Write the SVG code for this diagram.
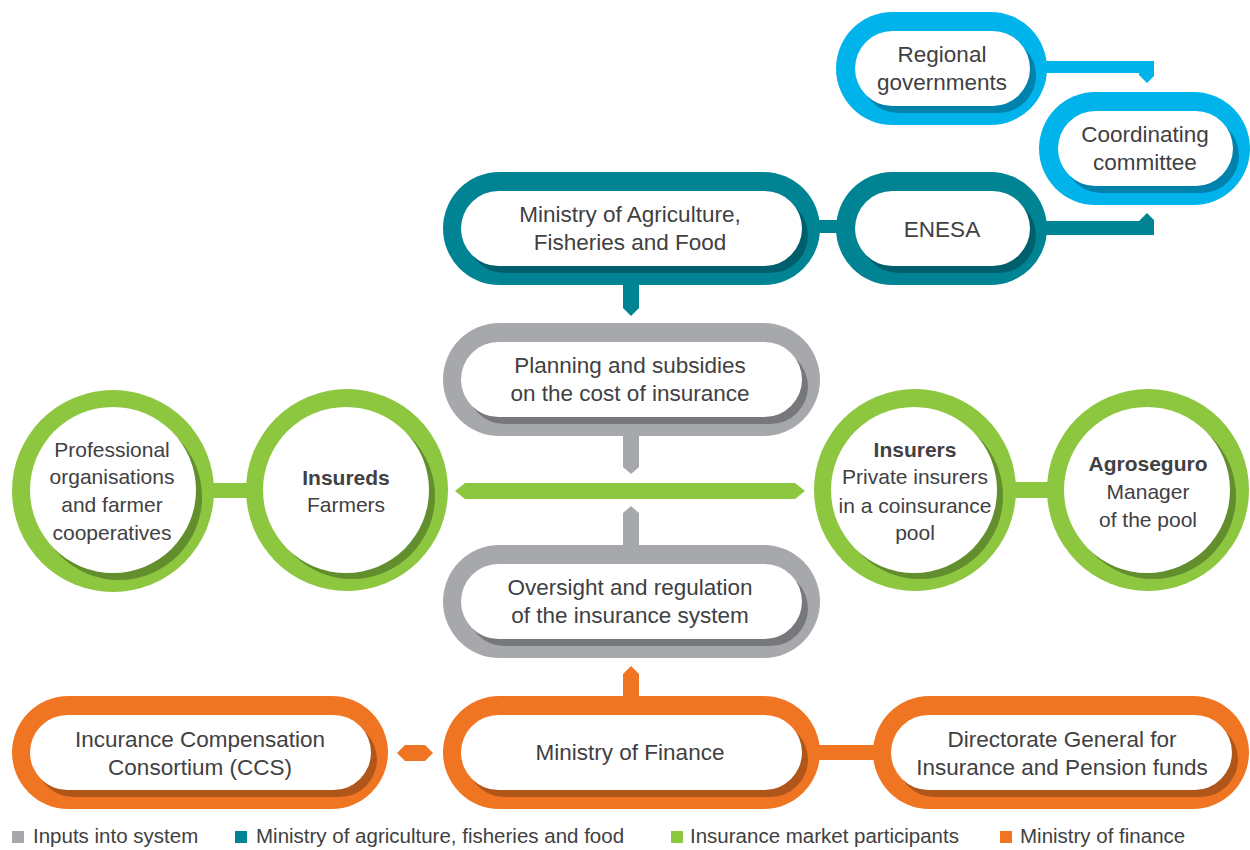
<svg xmlns="http://www.w3.org/2000/svg" width="1250" height="850" viewBox="0 0 1250 850">
<style>
text{font-family:"Liberation Sans",Arial,sans-serif;fill:#414042;font-size:22.5px;text-anchor:middle}
.c text{font-size:21px}
.b{font-weight:bold}
.lg{font-size:20.5px;text-anchor:start}
.w{fill:#ffffff}
.blue{fill:#00b4eb}.blue-s{fill:#0082ad}
.teal{fill:#008393}.teal-s{fill:#005f6c}
.grey{fill:#a7a8ac}.grey-s{fill:#77787b}
.green{fill:#8dc63f}.green-s{fill:#628e2e}
.orange{fill:#f07522}.orange-s{fill:#b0561a}
</style>
<rect width="1250" height="850" fill="#ffffff"/>
<g id="connectors">
  <polygon class="blue" points="1040,61 1154,61 1154,76 1147,83 1139,75 1139,73 1040,73"/>
  <polygon class="teal" points="1040,221 1139,221 1147,213 1154,220 1154,235 1040,235"/>
  <rect class="teal" x="815" y="220" width="30" height="13"/>
  <polygon class="teal" points="623,280 639,280 639,308 631,316 623,308"/>
  <polygon class="grey" points="623,430 639,430 639,467 631,474 623,467"/>
  <polygon class="green" points="455,491 465,483 795,483 805,491 795,499 465,499"/>
  <polygon class="grey" points="623,550 623,513 631,506 639,513 639,550"/>
  <rect class="green" x="205" y="483" width="50" height="15"/>
  <rect class="green" x="1010" y="482" width="42" height="16"/>
  <polygon class="orange" points="623,700 623,674 631,666 639,674 639,700"/>
  <polygon class="orange" points="397,753 405,745 425,745 433,753 425,761 405,761"/>
  <rect class="orange" x="815" y="745" width="65" height="15"/>
</g>
<g id="regional">
  <rect class="blue" x="836" y="12" width="211" height="113" rx="56.5"/>
  <rect class="blue-s" x="861" y="38" width="175" height="75" rx="37.5"/>
  <rect class="w" x="855" y="31" width="175" height="75" rx="37.5"/>
  <text x="942" y="62">Regional</text>
  <text x="942" y="90">governments</text>
</g>
<g id="coordinating">
  <rect class="blue" x="1039" y="92" width="211" height="113" rx="56.5"/>
  <rect class="blue-s" x="1064" y="118" width="175" height="75" rx="37.5"/>
  <rect class="w" x="1058" y="111" width="175" height="75" rx="37.5"/>
  <text x="1145" y="142">Coordinating</text>
  <text x="1145" y="170">committee</text>
</g>
<g id="enesa">
  <rect class="teal" x="836" y="172" width="211" height="113" rx="56.5"/>
  <rect class="teal-s" x="861" y="198" width="175" height="75" rx="37.5"/>
  <rect class="w" x="855" y="191" width="175" height="75" rx="37.5"/>
  <text x="942" y="237">ENESA</text>
</g>
<g id="ministry-agriculture">
  <rect class="teal" x="443" y="172" width="377" height="113" rx="56.5"/>
  <rect class="teal-s" x="467" y="198" width="341" height="75" rx="37.5"/>
  <rect class="w" x="461" y="191" width="341" height="75" rx="37.5"/>
  <text x="630" y="222">Ministry of Agriculture,</text>
  <text x="630" y="250">Fisheries and Food</text>
</g>
<g id="planning">
  <rect class="grey" x="443" y="323" width="377" height="113" rx="56.5"/>
  <rect class="grey-s" x="467" y="349" width="341" height="75" rx="37.5"/>
  <rect class="w" x="461" y="342" width="341" height="75" rx="37.5"/>
  <text x="630" y="373">Planning and subsidies</text>
  <text x="630" y="401">on the cost of insurance</text>
</g>
<g id="professional" class="c">
  <circle class="green" cx="113" cy="491" r="101"/>
  <circle class="green-s" cx="119" cy="497" r="83"/>
  <circle class="w" cx="113" cy="490" r="83"/>
  <text x="112" y="457">Professional</text>
  <text x="112" y="484">organisations</text>
  <text x="112" y="512">and farmer</text>
  <text x="112" y="540">cooperatives</text>
</g>
<g id="insureds" class="c">
  <circle class="green" cx="347" cy="490" r="101"/>
  <circle class="green-s" cx="352" cy="496" r="83"/>
  <circle class="w" cx="346" cy="490" r="83"/>
  <text class="b" x="346" y="485">Insureds</text>
  <text x="346" y="512">Farmers</text>
</g>
<g id="insurers" class="c">
  <circle class="green" cx="915" cy="490" r="101"/>
  <circle class="green-s" cx="920" cy="496" r="83"/>
  <circle class="w" cx="914" cy="490" r="83"/>
  <text class="b" x="915" y="457">Insurers</text>
  <text x="915" y="484">Private insurers</text>
  <text x="915" y="513">in a coinsurance</text>
  <text x="915" y="540">pool</text>
</g>
<g id="agroseguro" class="c">
  <circle class="green" cx="1148" cy="490" r="101"/>
  <circle class="green-s" cx="1153" cy="496" r="83"/>
  <circle class="w" cx="1147" cy="490" r="83"/>
  <text class="b" x="1148" y="471">Agroseguro</text>
  <text x="1148" y="499">Manager</text>
  <text x="1148" y="527">of the pool</text>
</g>
<g id="oversight">
  <rect class="grey" x="443" y="545" width="377" height="113" rx="56.5"/>
  <rect class="grey-s" x="467" y="571" width="341" height="75" rx="37.5"/>
  <rect class="w" x="461" y="564" width="341" height="75" rx="37.5"/>
  <text x="630" y="595">Oversight and regulation</text>
  <text x="630" y="623">of the insurance system</text>
</g>
<g id="ccs">
  <rect class="orange" x="12" y="696" width="376" height="113" rx="56.5"/>
  <rect class="orange-s" x="36" y="722" width="341" height="75" rx="37.5"/>
  <rect class="w" x="30" y="715" width="341" height="75" rx="37.5"/>
  <text x="200" y="747">Incurance Compensation</text>
  <text x="200" y="775">Consortium (CCS)</text>
</g>
<g id="ministry-finance">
  <rect class="orange" x="443" y="696" width="377" height="113" rx="56.5"/>
  <rect class="orange-s" x="467" y="722" width="341" height="75" rx="37.5"/>
  <rect class="w" x="461" y="715" width="341" height="75" rx="37.5"/>
  <text x="630" y="760">Ministry of Finance</text>
</g>
<g id="directorate">
  <rect class="orange" x="873" y="696" width="376" height="113" rx="56.5"/>
  <rect class="orange-s" x="897" y="722" width="341" height="75" rx="37.5"/>
  <rect class="w" x="891" y="715" width="341" height="75" rx="37.5"/>
  <text x="1062" y="747">Directorate General for</text>
  <text x="1062" y="775">Insurance and Pension funds</text>
</g>
<g id="legend">
  <rect class="grey" x="12" y="831" width="12" height="12"/>
  <text class="lg" x="33" y="843">Inputs into system</text>
  <rect class="teal" x="235" y="831" width="12" height="12"/>
  <text class="lg" x="256" y="843">Ministry of agriculture, fisheries and food</text>
  <rect class="green" x="671" y="831" width="12" height="12"/>
  <text class="lg" x="690" y="843">Insurance market participants</text>
  <rect class="orange" x="1000" y="831" width="12" height="12"/>
  <text class="lg" x="1020" y="843">Ministry of finance</text>
</g>
</svg>
